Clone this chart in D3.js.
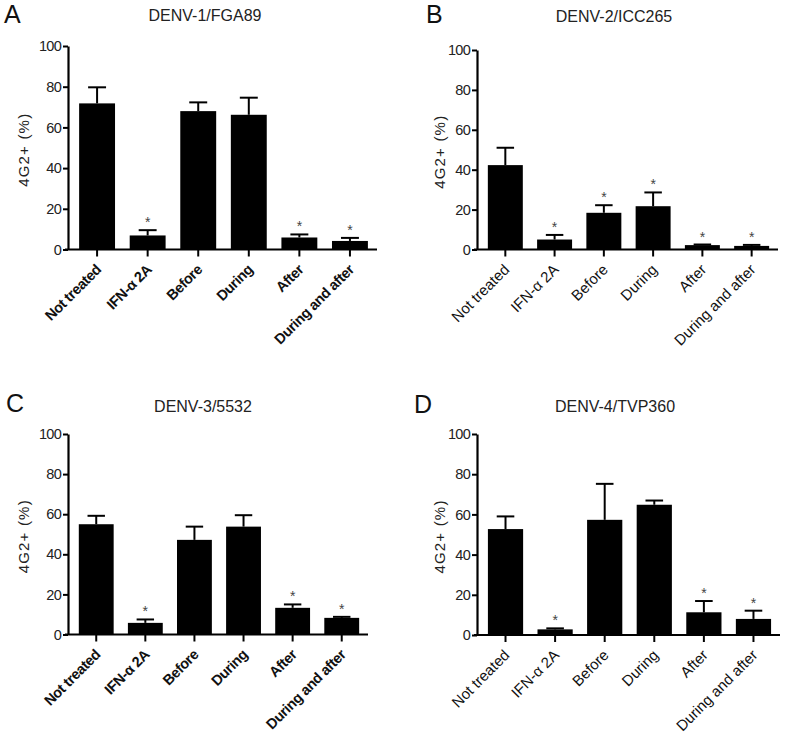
<!DOCTYPE html>
<html>
<head>
<meta charset="utf-8">
<script src="https://cdn.jsdelivr.net/npm/d3@7"></script>
<style>
  html, body { margin: 0; padding: 0; background: #fff; }
  svg { display: block; font-family: "Liberation Sans", Arial, sans-serif; }
</style>
</head>
<body>
<svg id="chart" width="787" height="734"></svg>
<script>
// ---- data ----
const categories = ["Not treated", "IFN-\u03b1 2A", "Before", "During", "After", "During and after"];
const yTicks = [0, 20, 40, 60, 80, 100];
const panelLetters = ["A", "B", "C", "D"];
const panelTitles = ["DENV-1/FGA89", "DENV-2/ICC265", "DENV-3/5532", "DENV-4/TVP360"];
const yLabel = "4G2+ (%)";

const meanA = [71.8, 6.9, 68.0, 66.2, 5.9, 4.2];
const errA  = [7.9, 2.6, 4.3, 8.4, 1.5, 1.5];
const sigA  = [false, true, false, false, true, true];

const meanB = [42.3, 5.0, 18.4, 21.7, 2.2, 1.8];
const errB  = [8.7, 2.3, 3.8, 6.9, 0.3, 0.5];
const sigB  = [false, true, true, true, true, true];

const meanC = [55.0, 5.8, 47.2, 53.8, 13.3, 8.3];
const errC  = [4.2, 1.7, 6.6, 5.7, 1.7, 0.5];
const sigC  = [false, true, false, false, true, true];

const meanD = [52.7, 2.8, 57.3, 64.8, 11.3, 8.0];
const errD  = [6.3, 0.5, 17.9, 2.1, 5.6, 4.1];
const sigD  = [false, true, false, false, true, true];

const seriesMeans = [meanA, meanB, meanC, meanD];
const seriesErrs = [errA, errB, errC, errD];
const seriesSig = [sigA, sigB, sigC, sigD];

// ---- layout (pixel positions) ----
const layouts = [
  { x0: 68,  x1: 377, yTop: 46,  yBot: 249.5, letterX: 4,   letterY: 23,  titleX: 205, titleY: 21,  ylabX: 24,  bold: true },
  { x0: 477, x1: 778, yTop: 50,  yBot: 249.5, letterX: 426, letterY: 23,  titleX: 614, titleY: 22,  ylabX: 440, bold: false },
  { x0: 68,  x1: 368, yTop: 434, yBot: 634.5, letterX: 6,   letterY: 412, titleX: 203, titleY: 412, ylabX: 24,  bold: true },
  { x0: 477, x1: 780, yTop: 434, yBot: 635,   letterX: 414, letterY: 413, titleX: 615, titleY: 412, ylabX: 440, bold: false }
];

const FONT = "'Liberation Sans', Arial, sans-serif";
const svg = d3.select("#chart");

layouts.forEach((L, p) => {
  const g = svg.append("g");
  const means = seriesMeans[p], errs = seriesErrs[p], sig = seriesSig[p];

  const x = d3.scaleBand().domain(categories).range([L.x0, L.x1])
    .paddingInner(0.29).paddingOuter(0.2).align(0.55);
  const y = d3.scaleLinear().domain([0, 100]).range([L.yBot, L.yTop]);

  // panel letter and title
  g.append("text").attr("x", L.letterX).attr("y", L.letterY)
    .attr("font-size", 25).attr("fill", "#111").text(panelLetters[p]);
  g.append("text").attr("x", L.titleX).attr("y", L.titleY)
    .attr("text-anchor", "middle").attr("font-size", 16).attr("fill", "#222")
    .text(panelTitles[p]);

  // y label
  const yMid = (L.yTop + L.yBot) / 2 + 2;
  g.append("text")
    .attr("transform", `translate(${L.ylabX},${yMid}) rotate(-90)`)
    .attr("text-anchor", "middle").attr("font-size", 15).attr("fill", "#222")
    .attr("letter-spacing", "1.2px")
    .attr("dy", "0.35em").text(yLabel);

  // bars
  const bw = x.bandwidth();
  g.selectAll("rect.bar").data(categories).enter().append("rect")
    .attr("x", d => x(d)).attr("width", bw)
    .attr("y", (d, i) => y(means[i]))
    .attr("height", (d, i) => y(0) - y(means[i]))
    .attr("fill", "#000");

  // error bars (upper only)
  const capW = bw * 0.5;
  categories.forEach((c, i) => {
    const cx = x(c) + bw / 2;
    const top = y(means[i] + errs[i]);
    g.append("line").attr("x1", cx).attr("x2", cx)
      .attr("y1", y(means[i])).attr("y2", top)
      .attr("stroke", "#000").attr("stroke-width", 2);
    g.append("line").attr("x1", cx - capW / 2).attr("x2", cx + capW / 2)
      .attr("y1", top).attr("y2", top)
      .attr("stroke", "#000").attr("stroke-width", 2);
    if (sig[i]) {
      g.append("text").attr("x", cx).attr("y", top - 3)
        .attr("text-anchor", "middle").attr("font-size", 14).attr("fill", "#444")
        .text("*");
    }
  });

  // y axis
  const yAxis = d3.axisLeft(y).tickValues(yTicks).tickSize(5).tickSizeOuter(0).tickPadding(2);
  const ya = g.append("g").attr("transform", `translate(${L.x0},0)`).call(yAxis);
  ya.select(".domain").attr("stroke", "#000").attr("stroke-width", 2.2);
  ya.selectAll(".tick line").attr("stroke", "#000").attr("stroke-width", 2);
  ya.selectAll(".tick text").attr("font-size", 14.5).attr("fill", "#222")
    .attr("font-family", FONT).attr("letter-spacing", "-0.7px");

  // x axis
  const xAxis = d3.axisBottom(x).tickSize(7).tickSizeOuter(0);
  const xa = g.append("g").attr("transform", `translate(0,${L.yBot})`).call(xAxis);
  xa.select(".domain").attr("stroke", "#000").attr("stroke-width", 2.2)
    .attr("d", `M${L.x0 - 3},0H${L.x1}`);
  xa.selectAll(".tick line").attr("stroke", "#000").attr("stroke-width", 2);
  xa.selectAll(".tick text")
    .attr("font-size", L.bold ? 14.5 : 15).attr("fill", "#111")
    .attr("font-weight", L.bold ? "bold" : "normal")
    .attr("font-family", FONT)
    .attr("letter-spacing", L.bold ? "-0.4px" : "0px")
    .attr("text-anchor", "end")
    .attr("dy", null).attr("y", 0)
    .attr("transform", "translate(5,21) rotate(-45)");
});
</script>
</body>
</html>
